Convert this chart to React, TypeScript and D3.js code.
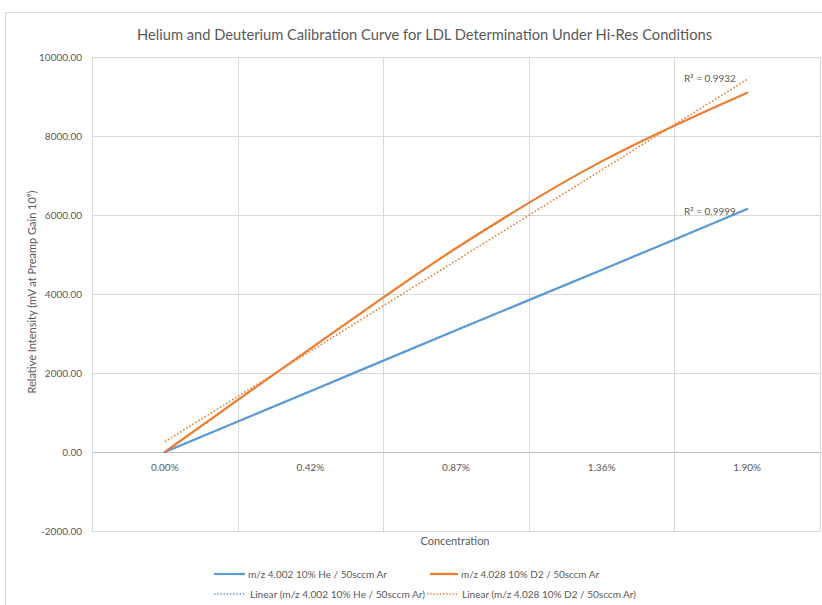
import React from "react";
import * as d3 from "d3";

const categories = ["0.00%", "0.42%", "0.87%", "1.36%", "1.90%"];
const heliumValues = [0, 1540, 3080, 4610, 6150];
const deuteriumValues = [0, 2615, 5157, 7357, 9096];
const yTicks = [-2000, 0, 2000, 4000, 6000, 8000, 10000];
const seriesNames = ["m/z 4.002 10% He / 50sccm Ar", "m/z 4.028 10% D2 / 50sccm Ar"];
const r2Labels = ["R² = 0.9999", "R² = 0.9932"];

const BLUE = "#5B9BD5";
const ORANGE = "#ED7D31";
const FONT = "Lato, 'Open Sans', sans-serif";

function linFit(vals: number[]) {
  const xs = vals.map((_, i) => i);
  const mx = d3.mean(xs)!;
  const my = d3.mean(vals)!;
  let num = 0, den = 0;
  xs.forEach((x, i) => { num += (x - mx) * (vals[i] - my); den += (x - mx) * (x - mx); });
  const slope = num / den;
  const intercept = my - slope * mx;
  return xs.map((x) => intercept + slope * x);
}

export default function App() {
  const W = 822, H = 605;
  const left = 92, right = 820, top = 57, bottom = 531;
  const x = d3.scaleBand<string>().domain(categories).range([left, right]);
  const y = d3.scaleLinear().domain([-2000, 10000]).range([bottom, top]);
  const cx = (i: number) => x(categories[i])! + x.bandwidth() / 2;
  const line = d3.line<number>().x((_, i) => cx(i)).y((d) => y(d)).curve(d3.curveCatmullRom.alpha(0.5));
  const straight = d3.line<number>().x((_, i) => cx(i)).y((d) => y(d));
  const heTrend = linFit(heliumValues);
  const dTrend = linFit(deuteriumValues);
  const boundaries = categories.map((c) => x(c)!).concat([right]);
  const grey = "#595959";

  return (
    <svg width={W} height={H} style={{ position: "absolute", left: 0, top: 0, background: "#fff" }} fontFamily={FONT}>
      <rect x={5.5} y={12.5} width={830} height={620} fill="#fff" stroke="#d9d9d9" />
      <text x={137} y={40} fontSize={15} fill={grey} textLength={575} lengthAdjust="spacingAndGlyphs">
        Helium and Deuterium Calibration Curve for LDL Determination Under Hi-Res Conditions
      </text>
      {yTicks.map((t) => (
        <g key={t}>
          <line x1={left} x2={right} y1={Math.round(y(t)) + 0.5} y2={Math.round(y(t)) + 0.5} stroke={t === 0 ? "#bfbfbf" : "#d9d9d9"} />
          <text x={82} y={y(t) + 3.5} textAnchor="end" fontSize={10} fill={grey}>{t.toFixed(2)}</text>
        </g>
      ))}
      {boundaries.map((b, i) => (
        <line key={i} x1={Math.round(b) + 0.5} x2={Math.round(b) + 0.5} y1={top} y2={bottom} stroke="#d9d9d9" />
      ))}
      {categories.map((c, i) => (
        <text key={c} x={cx(i)} y={471} textAnchor="middle" fontSize={10} fill={grey}>{c}</text>
      ))}
      <text x={455} y={545} textAnchor="middle" fontSize={11} fill={grey}>Concentration</text>
      <text transform={`translate(36,${(top + bottom) / 2 - 2}) rotate(-90)`} textAnchor="middle" fontSize={11} fill={grey}>
        Relative Intensity (mV at Preamp Gain 10⁹)
      </text>
      <path d={line(heliumValues)!} fill="none" stroke={BLUE} strokeWidth={2.2} strokeLinecap="round" />
      <path d={line(deuteriumValues)!} fill="none" stroke={ORANGE} strokeWidth={2.2} strokeLinecap="round" />
      <path d={straight(heTrend)!} fill="none" stroke={BLUE} strokeWidth={1.6} strokeDasharray="1.6,2" />
      <path d={straight(dTrend)!} fill="none" stroke={ORANGE} strokeWidth={1.6} strokeDasharray="1.6,2" />
      <text x={684} y={215} fontSize={10} fill={grey}>{r2Labels[0]}</text>
      <text x={684} y={82} fontSize={10} fill={grey}>{r2Labels[1]}</text>
      <g fontSize={10} fill={grey}>
        <line x1={214} x2={245} y1={574} y2={574} stroke={BLUE} strokeWidth={2.2} />
        <text x={248} y={577.5} textLength={139} lengthAdjust="spacingAndGlyphs">{seriesNames[0]}</text>
        <line x1={430} x2={458} y1={574} y2={574} stroke={ORANGE} strokeWidth={2.2} />
        <text x={461} y={577.5} textLength={138} lengthAdjust="spacingAndGlyphs">{seriesNames[1]}</text>
        <line x1={214} x2={245} y1={594} y2={594} stroke={BLUE} strokeWidth={1.4} strokeDasharray="1.4,1.8" />
        <text x={250} y={597.5} textLength={175} lengthAdjust="spacingAndGlyphs">{`Linear (${seriesNames[0]})`}</text>
        <line x1={427} x2={458} y1={594} y2={594} stroke={ORANGE} strokeWidth={1.4} strokeDasharray="1.4,1.8" />
        <text x={462} y={597.5} textLength={174} lengthAdjust="spacingAndGlyphs">{`Linear (${seriesNames[1]})`}</text>
      </g>
    </svg>
  );
}
